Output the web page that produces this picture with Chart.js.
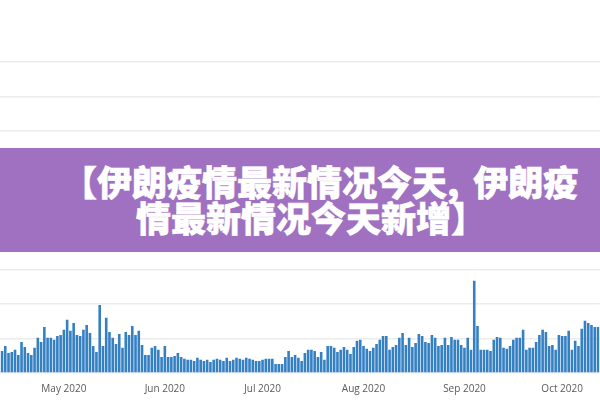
<!DOCTYPE html>
<html>
<head>
<meta charset="utf-8">
<script src="https://cdn.jsdelivr.net/npm/chart.js@4"></script>
<style>
  body { margin: 0; background: #fff; }
  #wrap { position: relative; width: 600px; height: 400px; overflow: hidden; }
  #banner {
    position: absolute; left: 0; top: 148px; width: 600px; height: 104px;
    background: #a071c1; color: #fff;
    font-family: "Noto Sans CJK SC", sans-serif; font-weight: 900; font-size: 35px;
    line-height: 36px; text-align: left; box-sizing: border-box; padding-top: 15px;
    -webkit-text-stroke: 0.6px #fff; white-space: nowrap;
  }
  #banner .l1 { display: block; padding-left: 62px; }
  #banner .l2 { display: block; padding-left: 136px; }
  #banner .comma { margin-right: 14px; }
</style>
</head>
<body>
<div id="wrap">
  <canvas id="casesChart" width="600" height="400"></canvas>
  <div id="banner"><span class="l1">【伊朗疫情最新情况今天<span class="comma">,</span>伊朗疫</span><span class="l2">情最新情况今天新增】</span></div>
</div>
<script>
// daily values, Apr 12 – Oct 12 2020
const aprValues = [640, 780, 580, 610, 670, 520, 900, 750, 580, 520, 730, 1020, 900, 1330, 1020, 1020, 960, 1070, 1100];
const mayValues = [1250, 1540, 1220, 1450, 1100, 1070, 1250, 1390, 1160, 780, 610, 1970, 780, 1600, 1190, 1020, 840, 1130, 730, 1190, 1100, 1360, 1100, 1220, 810, 520, 520, 730, 780, 670, 460];
const junValues = [780, 460, 460, 490, 580, 460, 410, 380, 380, 350, 440, 380, 350, 380, 320, 380, 410, 380, 350, 440, 350, 380, 440, 410, 380, 440, 410, 380, 350, 350];
const julValues = [380, 410, 410, 410, 260, 260, 260, 460, 640, 460, 520, 440, 350, 580, 670, 670, 640, 460, 610, 380, 780, 780, 730, 610, 670, 750, 670, 550, 750, 930, 960];
const augValues = [780, 700, 640, 730, 840, 960, 1070, 1070, 670, 750, 810, 1020, 1160, 810, 1020, 750, 870, 1130, 1070, 900, 870, 1100, 1020, 780, 810, 1020, 810, 1040, 960, 960, 810];
const sepValues = [730, 1020, 670, 2670, 1360, 670, 670, 670, 640, 960, 1040, 1020, 730, 700, 780, 960, 1020, 1020, 1250, 670, 730, 730, 900, 1100, 1250, 1190, 780, 810, 670, 1100];
const octValues = [1070, 1070, 1220, 670, 930, 780, 1280, 1510, 1450, 1390, 1330, 1330];

const monthNames = ['Jan', 'Feb', 'Mar', 'Apr', 'May', 'Jun', 'Jul', 'Aug', 'Sep', 'Oct', 'Nov', 'Dec'];
const yTicks = [0, 1000, 2000, 3000, 4000, 5000, 6000, 7000, 8000, 9000];

document.addEventListener('DOMContentLoaded', () => {
  const values = [...aprValues, ...mayValues, ...junValues, ...julValues, ...augValues, ...sepValues, ...octValues];

  // one label per day
  const labels = [];
  const start = new Date(2020, 3, 12);
  values.forEach((v, i) => {
    labels.push(new Date(start.getFullYear(), start.getMonth(), start.getDate() + i));
  });

  const ctx = document.getElementById('casesChart');
  new Chart(ctx, {
    type: 'bar',
    data: {
      labels: labels,
      datasets: [{
        data: values,
        backgroundColor: '#3480c3',
        barPercentage: 0.8,
        categoryPercentage: 1
      }]
    },
    options: {
      responsive: false, animation: false,
      layout: { padding: { top: 62, left: 0, right: 0, bottom: 0 } },
      plugins: { legend: { display: false }, tooltip: { enabled: false } },
      scales: {
        x: {
          grid: { display: false },
          border: { display: false },
          afterFit: s => { s.height = 27; },
          ticks: {
            autoSkip: false, maxRotation: 0, padding: 2,
            color: '#5a5a5a', font: { family: 'Open Sans', size: 10 },
            callback: (val, i) => {
              const d = labels[i];
              return d.getDate() === 1 ? `${monthNames[d.getMonth()]} ${d.getFullYear()}` : '';
            }
          }
        },
        y: {
          min: yTicks[0], max: yTicks[yTicks.length - 1],
          afterBuildTicks: s => { s.ticks = yTicks.map(v => ({ value: v })); },
          grid: { color: '#ececec', lineWidth: 1.5, drawTicks: false },
          border: { display: false },
          ticks: { display: false }
        }
      }
    }
  });
});
</script>
</body>
</html>
